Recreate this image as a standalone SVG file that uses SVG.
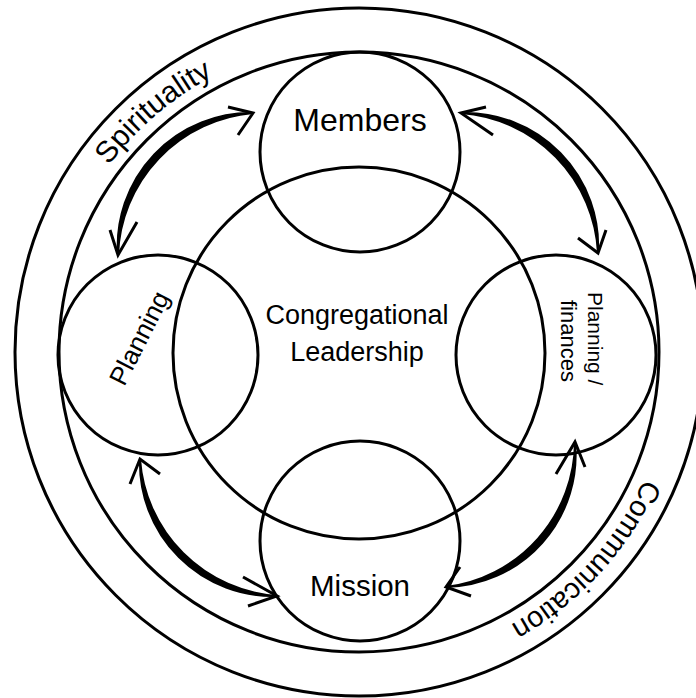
<svg xmlns="http://www.w3.org/2000/svg" width="696" height="698" viewBox="0 0 696 698">
<defs>
<style>
.c{fill:none;stroke:#000;stroke-width:3}
.t{font-family:"Liberation Sans",Arial,sans-serif;fill:#000}
.sh{fill:#000;stroke:#000;stroke-width:2;stroke-linejoin:round}
.hd{fill:none;stroke:#000;stroke-width:3;stroke-linejoin:miter;stroke-linecap:butt}
</style>
<path id="ring" d="M47,352 A312,312 0 1 1 671,352 A312,312 0 1 1 47,352"/>
</defs>
<rect width="696" height="698" fill="#fff"/>
<g id="spirituality-ring">
<circle class="c" cx="359" cy="352" r="344"/>
<circle class="c" cx="359" cy="352" r="300"/>
<text class="t" font-size="30" text-anchor="middle"><textPath href="#ring" startOffset="269">Spirituality</textPath></text>
<text class="t" font-size="29" text-anchor="middle"><textPath href="#ring" startOffset="1211">Communication</textPath></text>
</g>
<g id="leadership">
<circle class="c" cx="359" cy="353" r="186"/>
<text class="t" font-size="27" text-anchor="middle" x="357" y="324">Congregational</text>
<text class="t" font-size="27" text-anchor="middle" x="357" y="361">Leadership</text>
</g>
<g id="members">
<circle class="c" cx="360" cy="152" r="100"/>
<text class="t" font-size="32" text-anchor="middle" x="360" y="131">Members</text>
</g>
<g id="planning">
<circle class="c" cx="158" cy="355" r="100"/>
<text class="t" font-size="26" text-anchor="middle" dy="0.35em" transform="translate(139,338) rotate(-63)">Planning</text>
</g>
<g id="finances">
<circle class="c" cx="556" cy="355" r="100"/>
<text class="t" font-size="21" transform="translate(588,292) rotate(90)">Planning /</text>
<text class="t" font-size="22" transform="translate(561,300) rotate(90)">finances</text>
</g>
<g id="mission">
<circle class="c" cx="360" cy="541" r="100"/>
<text class="t" font-size="29.5" text-anchor="middle" x="360" y="596">Mission</text>
</g>
<g id="connectors">
<path class="sh" d="M253,113 A133,133 0 0 0 118,255 A148,148 0 0 1 253,113 Z"/>
<polyline class="hd" points="228,107 253,113 238,135"/>
<polyline class="hd" points="110,230 118,255 137,222"/>
<path class="sh" d="M461,113 A133,133 0 0 1 598,253 A148,148 0 0 0 461,113 Z"/>
<polyline class="hd" points="486,107 461,113 493,135"/>
<polyline class="hd" points="578,238 598,253 606,230"/>
<path class="sh" d="M140,459 A133,133 0 0 0 277,596 A148,148 0 0 1 140,459 Z"/>
<polyline class="hd" points="130,484 140,459 160,474"/>
<polyline class="hd" points="243,577 277,596 248,606"/>
<path class="sh" d="M575,442 A132,132 0 0 1 446,587 A147,147 0 0 0 575,442 Z"/>
<polyline class="hd" points="556,474 575,442 585,467"/>
<polyline class="hd" points="460,567 446,587 471,596"/>
</g>
</svg>
